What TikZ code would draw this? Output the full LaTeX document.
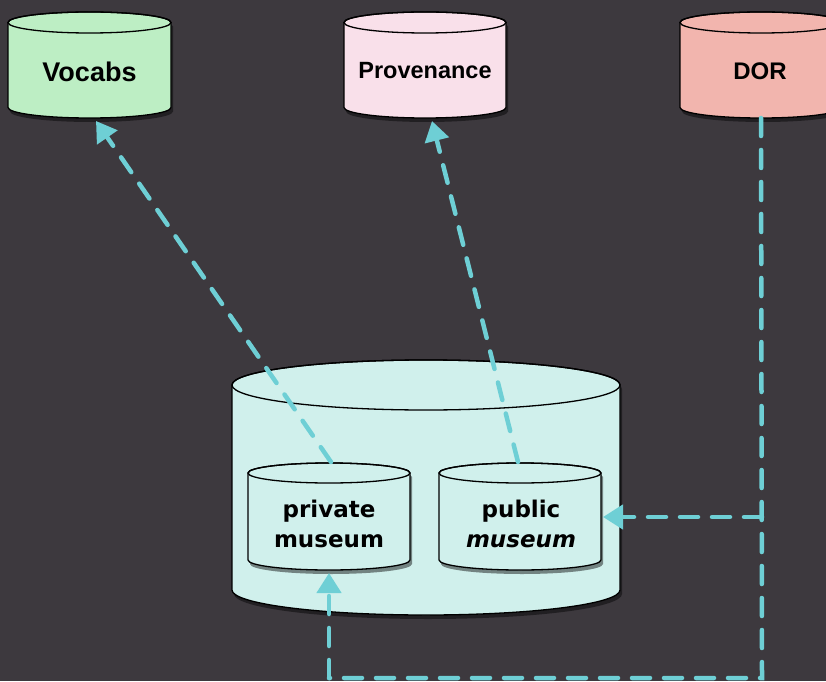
\documentclass[tikz,border=0pt]{standalone}
\usepackage{fontspec}
\setmainfont{Liberation Sans}
\newfontfamily\djv{DejaVu Sans}
\usetikzlibrary{arrows.meta}
\definecolor{bgc}{HTML}{3D393E}
\definecolor{vocc}{HTML}{BDEEC4}
\definecolor{provc}{HTML}{F9E0EA}
\definecolor{dorc}{HTML}{F2B5AE}
\definecolor{musc}{HTML}{D0F0EC}
\definecolor{arrc}{HTML}{6ECFD5}
% #1 name, #2 cx, #3 Ytop, #4 Ybot, #5 rx, #6 ry, #7 fill
\newcommand\mycyl[7]{%
  \fill[black,opacity=0.45,shift={(2,-4)}] (#2-#5,#3-#6) -- (#2-#5,#4+#6)
    arc[start angle=180,end angle=360,x radius=#5,y radius=#6] -- (#2+#5,#3-#6)
    arc[start angle=0,end angle=180,x radius=#5,y radius=#6] -- cycle;
  \filldraw[fill=#7,cylline] (#2-#5,#3-#6) -- (#2-#5,#4+#6)
    arc[start angle=180,end angle=360,x radius=#5,y radius=#6] -- (#2+#5,#3-#6)
    arc[start angle=0,end angle=180,x radius=#5,y radius=#6] -- cycle;
  \draw[cylline] (#2,#3-#6) ellipse[x radius=#5,y radius=#6];
  \coordinate (#1-top) at (#2,#3);
  \coordinate (#1-bot) at (#2,#4);
}
\tikzset{
  cylline/.style={draw=black,line width=1.3pt},
  toplabel/.style={font=\bfseries, text=black},
  muslabel/.style={font=\djv\bfseries\fontsize{23}{30}\selectfont, align=center, text=black},
  conn/.style={draw=arrc, line width=4.5pt, line cap=round, dash pattern=on 18pt off 14pt},
  tip/.style={-{Triangle[length=20pt,width=24pt]}},
}
\begin{document}
\begin{tikzpicture}[x=1pt,y=1pt]
\fill[bgc] (0,0) rectangle (826,681);
\useasboundingbox (0,0) rectangle (826,681);
% top stores
\mycyl{voc}{89.5}{669}{563}{81.5}{10.5}{vocc}
\mycyl{prov}{425}{669}{563}{81}{10.5}{provc}
\mycyl{dor}{761}{669}{563}{81}{10.5}{dorc}
\node[toplabel,font=\bfseries\fontsize{27}{30}\selectfont] (vocabs) at (89.5,609) {Vocabs};
\node[toplabel,font=\bfseries\fontsize{23.5}{28}\selectfont] (provenance) at (425,610) {Provenance};
\node[toplabel,font=\bfseries\fontsize{24}{28}\selectfont] (dorl) at (760,610) {DOR};
% big museum store
\mycyl{big}{426}{321}{66}{194}{25}{musc}
\mycyl{priv}{329}{218}{111}{81}{10}{musc}
\mycyl{pub}{520}{218}{111}{81}{10}{musc}
\node[muslabel] (private) at (329,157) {private\\museum};
\node[muslabel] (public) at (521,157) {public\\\itshape museum};
% connectors
\coordinate (vocin) at (96,560);
\coordinate (provin) at (432,560);
\coordinate (corner1) at (762,3);
\coordinate (corner2) at (329,3);
\coordinate (branch) at (762,164);
\coordinate (pubin) at (603,164);
\coordinate (privin) at (329,108);
\coordinate (privout) at (331,219);
\coordinate (pubout) at (518,219);
\draw[conn,tip] (privout) -- (vocin);
\draw[conn,tip] (pubout) -- (provin);
\draw[conn] (dor-bot) -- (corner1) -- (corner2);
\draw[conn,tip] (corner2) -- (privin);
\draw[conn,tip] (branch) -- (pubin);
\end{tikzpicture}
\end{document}
